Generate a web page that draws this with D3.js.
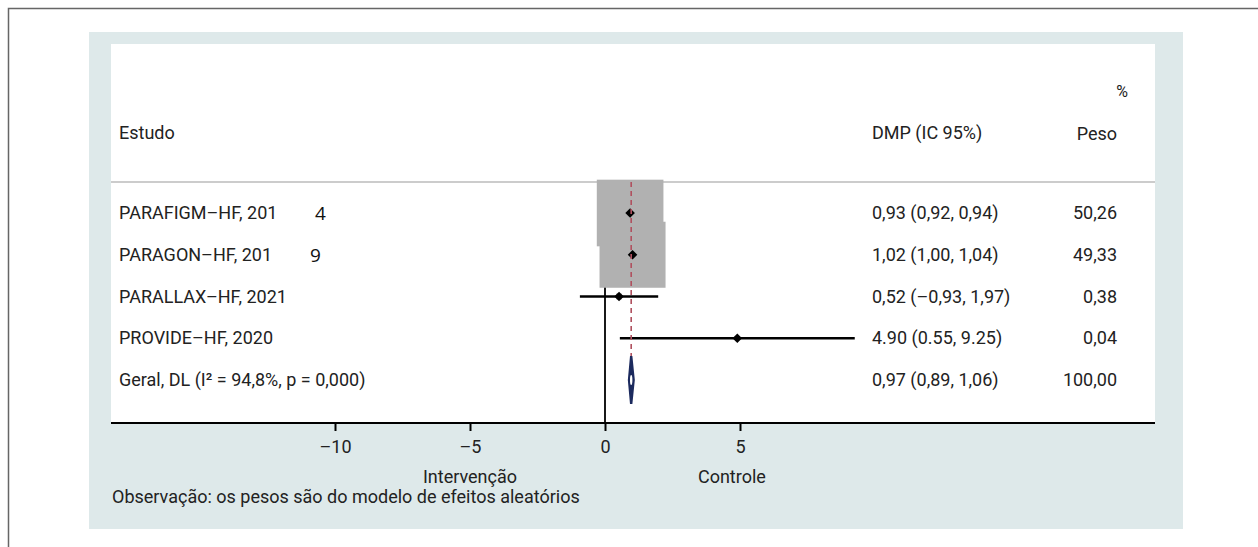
<!DOCTYPE html>
<html>
<head>
<meta charset="utf-8">
<script src="https://cdn.jsdelivr.net/npm/d3@7"></script>
<style>
  body { margin: 0; background: #fff; }
  svg text { font-family: "Liberation Sans Narrow", "Arial Narrow", "Roboto", sans-serif; fill: #222; }
</style>
</head>
<body>
<svg id="forest" width="1258" height="547"></svg>
<script>
// study rows
const studies = ["PARAFIGM–HF, 201", "PARAGON–HF, 201", "PARALLAX–HF, 2021", "PROVIDE–HF, 2020"];
const strayDigits = ["4", "9", "", ""];   // the odd detached year digits in the original
const estimates = [0.93, 1.02, 0.52, 4.90];
const lower = [0.92, 1.00, -0.93, 0.55];
const upper = [0.94, 1.04, 1.97, 9.25];
const ciLabels = ["0,93 (0,92, 0,94)", "1,02 (1,00, 1,04)", "0,52 (–0,93, 1,97)", "4.90 (0.55, 9.25)"];
const weights = [50.26, 49.33, 0.38, 0.04];
const weightLabels = ["50,26", "49,33", "0,38", "0,04"];

// pooled estimate
const overallLabel = "Geral, DL (I² = 94,8%, p = 0,000)";
const overall = { est: 0.97, lo: 0.89, hi: 1.06 };
const overallCi = "0,97 (0,89, 1,06)";
const overallWeight = "100,00";

const xTicks = [-10, -5, 0, 5];
const tickLabels = ["–10", "–5", "0", "5"];
const sideLabels = ["Intervenção", "Controle"];
const sidePos = [-5, 4.7];
const note = "Observação: os pesos são do modelo de efeitos aleatórios";

const svg = d3.select("#forest");

// outer frame + tinted panel
svg.append("rect").attr("x", 8.5).attr("y", 8.5).attr("width", 1400).attr("height", 700)
  .attr("fill", "none").attr("stroke", "#666").attr("stroke-width", 1.5);
svg.append("rect").attr("x", 89).attr("y", 32).attr("width", 1094).attr("height", 497)
  .attr("fill", "#dee9ea");
svg.append("rect").attr("x", 111).attr("y", 44).attr("width", 1044).attr("height", 379)
  .attr("fill", "#fff");

const x = d3.scaleLinear().domain([-10, 10]).range([335, 875]);
const y = d3.scaleLinear().domain([0, 4]).range([213, 380]);
const left = 111, right = 1155;
const headerY = 182, axisY = 423;
const colText = 119, colCi = 872, colW = 1117;

// headers
svg.append("text").attr("x", colText).attr("y", 139).attr("font-size", 18).text("Estudo");
svg.append("text").attr("x", colCi).attr("y", 139).attr("font-size", 18).text("DMP (IC 95%)");
svg.append("text").attr("x", colW).attr("y", 140).attr("font-size", 18).attr("text-anchor", "end").text("Peso");
svg.append("text").attr("x", colW + 11).attr("y", 97).attr("font-size", 16).attr("text-anchor", "end").text("%");

svg.append("line").attr("x1", left).attr("x2", right).attr("y1", headerY).attr("y2", headerY)
  .attr("stroke", "#bbb").attr("stroke-width", 1.5);

// null line
svg.append("line").attr("x1", x(0)).attr("x2", x(0)).attr("y1", headerY).attr("y2", axisY)
  .attr("stroke", "#000").attr("stroke-width", 1.8);

const k = 9.4; // box side per sqrt(weight)
const rows = svg.append("g");
rows.selectAll(".wbox").data(weights).enter().append("rect")
  .attr("class", "wbox")
  .attr("x", (d, i) => x(estimates[i]) - k * Math.sqrt(d) / 2)
  .attr("y", (d, i) => y(i) - k * Math.sqrt(d) / 2)
  .attr("width", d => k * Math.sqrt(d))
  .attr("height", d => k * Math.sqrt(d))
  .attr("fill", "#b1b1b1");

// pooled estimate line (dashed)
svg.append("line").attr("x1", x(overall.est)).attr("x2", x(overall.est))
  .attr("y1", headerY).attr("y2", y(4) - 24)
  .attr("stroke", "#b0505e").attr("stroke-width", 1.6).attr("stroke-dasharray", "5,4");

rows.selectAll(".ci").data(estimates).enter().append("line")
  .attr("class", "ci")
  .attr("x1", (d, i) => x(lower[i])).attr("x2", (d, i) => x(upper[i]))
  .attr("y1", (d, i) => y(i)).attr("y2", (d, i) => y(i))
  .attr("stroke", "#000").attr("stroke-width", 2.4);

rows.selectAll(".pt").data(estimates).enter().append("path")
  .attr("class", "pt")
  .attr("d", (d, i) => {
    const cx = x(d), cy = y(i), r = 4.8;
    return `M${cx},${cy - r}L${cx + r},${cy}L${cx},${cy + r}L${cx - r},${cy}Z`;
  })
  .attr("fill", "#000");

// pooled diamond
const dy = y(4), dh = 24;
svg.append("path")
  .attr("d", `M${x(overall.lo)},${dy}L${x(overall.est)},${dy - dh}L${x(overall.hi)},${dy}L${x(overall.est)},${dy + dh}Z`)
  .attr("fill", "#1c2a5e").attr("stroke", "#1c2a5e").attr("stroke-width", 2.4).attr("stroke-linejoin", "miter");
svg.append("ellipse").attr("cx", x(overall.est)).attr("cy", dy).attr("rx", 1.2).attr("ry", 5)
  .attr("fill", "#fff");

// row labels
rows.selectAll(".lab").data(studies).enter().append("text")
  .attr("x", colText).attr("y", (d, i) => y(i) + 6).attr("font-size", 18).text(d => d);
rows.selectAll(".dig").data(strayDigits).enter().append("text")
  .attr("x", (d, i) => i === 0 ? 315 : 310).attr("y", (d, i) => y(i) + 7)
  .attr("font-size", 19).style("font-family", "'Open Sans', sans-serif").style("fill", "#111").text(d => d);
rows.selectAll(".cil").data(ciLabels).enter().append("text")
  .attr("x", colCi).attr("y", (d, i) => y(i) + 6).attr("font-size", 18).text(d => d);
rows.selectAll(".wl").data(weightLabels).enter().append("text")
  .attr("x", colW).attr("y", (d, i) => y(i) + 6).attr("font-size", 18).attr("text-anchor", "end").text(d => d);

svg.append("text").attr("x", colText).attr("y", y(4) + 6).attr("font-size", 18).text(overallLabel);
svg.append("text").attr("x", colCi).attr("y", y(4) + 6).attr("font-size", 18).text(overallCi);
svg.append("text").attr("x", colW).attr("y", y(4) + 6).attr("font-size", 18).attr("text-anchor", "end").text(overallWeight);

// x axis
svg.append("line").attr("x1", left).attr("x2", right).attr("y1", axisY).attr("y2", axisY)
  .attr("stroke", "#000").attr("stroke-width", 2);
const axis = d3.axisBottom(x).tickValues(xTicks).tickSize(8)
  .tickFormat((d, i) => tickLabels[i]);
const gAxis = svg.append("g").attr("transform", `translate(0,${axisY})`).call(axis);
gAxis.select(".domain").remove();
gAxis.selectAll(".tick line").attr("stroke", "#000").attr("stroke-width", 2);
gAxis.selectAll(".tick text").attr("font-size", 18).attr("dy", "1.05em")
  .style("font-family", "'Liberation Sans Narrow', 'Arial Narrow', Roboto, sans-serif").attr("fill", "#222");

svg.selectAll(".side").data(sideLabels).enter().append("text")
  .attr("x", (d, i) => x(sidePos[i])).attr("y", 483).attr("font-size", 18)
  .attr("text-anchor", "middle").text(d => d);

svg.append("text").attr("x", 112).attr("y", 503).attr("font-size", 18).text(note);
</script>
</body>
</html>
